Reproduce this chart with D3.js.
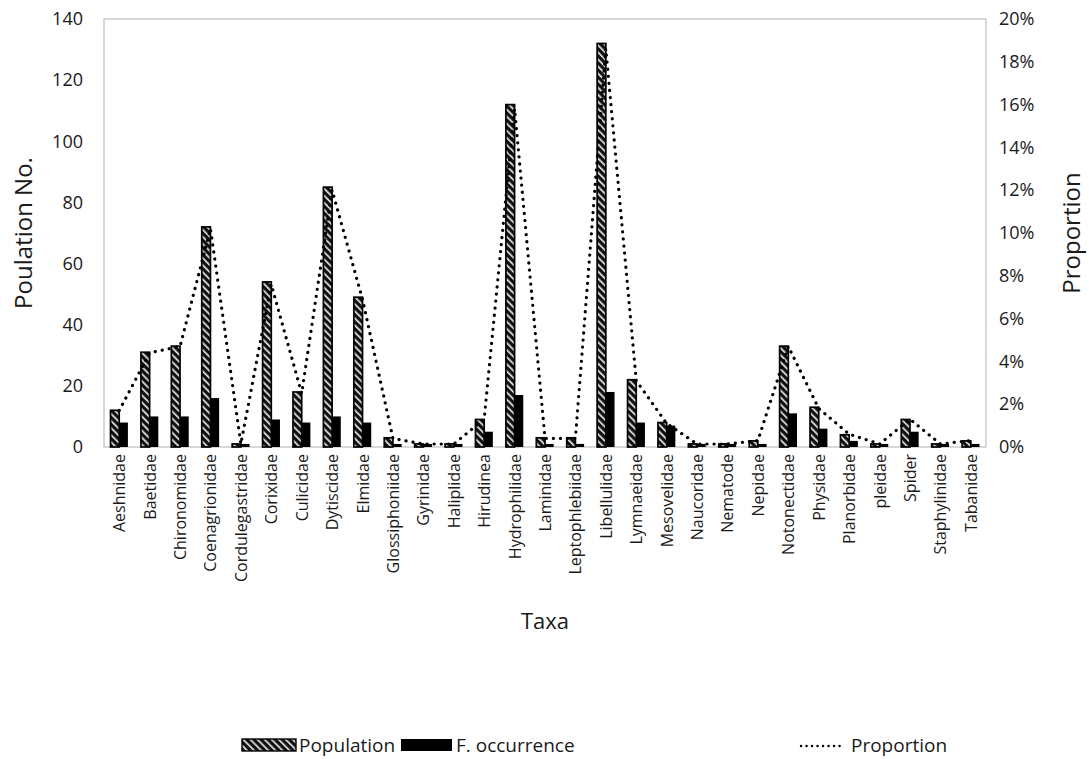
<!DOCTYPE html>
<html>
<head>
<meta charset="utf-8">
<script src="https://cdn.jsdelivr.net/npm/d3@7"></script>
<style>
  html, body { margin: 0; padding: 0; background: #fff; }
  svg { display: block; font-family: "Open Sans", Lato, sans-serif; }
</style>
</head>
<body>
<svg id="chart" width="1089" height="759"></svg>
<script>
// Taxa sampled
const taxa = ["Aeshnidae", "Baetidae", "Chironomidae", "Coenagrionidae", "Cordulegastridae",
  "Corixidae", "Culicidae", "Dytiscidae", "Elmidae", "Glossiphoniidae", "Gyrinidae",
  "Haliplidae", "Hirudinea", "Hydrophilidae", "Laminidae", "Leptophlebiidae", "Libellulidae",
  "Lymnaeidae", "Mesovelidae", "Naucoridae", "Nematode", "Nepidae", "Notonectidae",
  "Physidae", "Planorbidae", "pleidae", "Spider", "Staphylinidae", "Tabanidae"];

// Individuals counted per taxon
const population = [12, 31, 33, 72, 1, 54, 18, 85, 49, 3, 1, 1, 9, 112, 3, 3, 132, 22, 8,
  1, 1, 2, 33, 13, 4, 1, 9, 1, 2];

// Frequency of occurrence per taxon
const occurrence = [8, 10, 10, 16, 1, 9, 8, 10, 8, 1, 1, 1, 5, 17, 1, 1, 18, 8, 7,
  1, 1, 1, 11, 6, 2, 1, 5, 1, 1];

// Share of the total catch (fraction)
const proportion = [0.017, 0.044, 0.047, 0.102, 0.0014, 0.076, 0.025, 0.120, 0.069, 0.004,
  0.0014, 0.0014, 0.013, 0.158, 0.004, 0.004, 0.186, 0.031, 0.011, 0.0014, 0.0014, 0.003,
  0.047, 0.018, 0.006, 0.0014, 0.013, 0.0014, 0.003];

const leftTicks = [0, 20, 40, 60, 80, 100, 120, 140];
const rightTicks = [0, 0.02, 0.04, 0.06, 0.08, 0.10, 0.12, 0.14, 0.16, 0.18, 0.20];
const legendLabels = ["Population", "F. occurrence", "Proportion"];

const svg = d3.select("#chart");
const plot = { left: 104, right: 986, top: 19, bottom: 447 };
const ink = "#1a1a1a";

const x = d3.scaleBand().domain(taxa).range([plot.left, plot.right]);
const yL = d3.scaleLinear().domain([0, 140]).range([plot.bottom, plot.top]);
const yR = d3.scaleLinear().domain([0, 0.20]).range([plot.bottom, plot.top]);
const barW = x.bandwidth() / 3.5;

// Diagonal hatch used for the population bars
const defs = svg.append("defs");
const pat = defs.append("pattern")
  .attr("id", "hatch").attr("patternUnits", "userSpaceOnUse")
  .attr("width", 5).attr("height", 5)
  .attr("patternTransform", "rotate(-45)");
pat.append("rect").attr("width", 5).attr("height", 5).attr("fill", "#111");
pat.append("rect").attr("x", 0).attr("y", 0).attr("width", 1.7).attr("height", 5).attr("fill", "#e6e6e6");

// Plot area frame
svg.append("rect")
  .attr("x", plot.left).attr("y", plot.top)
  .attr("width", plot.right - plot.left).attr("height", plot.bottom - plot.top)
  .attr("fill", "none").attr("stroke", "#c4c4c4").attr("stroke-width", 1.3);

// Left axis
const axL = svg.append("g").attr("transform", `translate(${plot.left},0)`)
  .call(d3.axisLeft(yL).tickValues(leftTicks).tickSize(0).tickPadding(21));
axL.select(".domain").remove();
axL.selectAll("text").attr("font-size", 18).attr("fill", ink).style("font-family", "'Open Sans', sans-serif");

// Right axis
const axR = svg.append("g").attr("transform", `translate(${plot.right},0)`)
  .call(d3.axisRight(yR).tickValues(rightTicks).tickSize(0).tickPadding(13).tickFormat(d3.format(".0%")));
axR.select(".domain").remove();
axR.selectAll("text").attr("font-size", 18).attr("fill", ink).style("font-family", "'Open Sans', sans-serif");

// Category axis with rotated labels
const axX = svg.append("g").attr("transform", `translate(0,${plot.bottom})`)
  .call(d3.axisBottom(x).tickSize(0).tickPadding(0));
axX.select(".domain").remove();
axX.selectAll("text")
  .attr("font-size", 16).attr("fill", ink).style("font-family", "'Open Sans', sans-serif")
  .attr("text-anchor", "end")
  .attr("dy", null)
  .attr("transform", "translate(0,7) rotate(-90)")
  .attr("dominant-baseline", "central");

// Population bars
svg.append("g").selectAll("rect")
  .data(taxa.map((t, i) => ({ t, v: population[i] })))
  .join("rect")
  .attr("x", d => x(d.t) + x.bandwidth() / 2 - barW)
  .attr("y", d => yL(d.v))
  .attr("width", barW)
  .attr("height", d => yL(0) - yL(d.v))
  .attr("fill", "url(#hatch)")
  .attr("stroke", "#000").attr("stroke-width", 1.7);

// Occurrence bars
svg.append("g").selectAll("rect")
  .data(taxa.map((t, i) => ({ t, v: occurrence[i] })))
  .join("rect")
  .attr("x", d => x(d.t) + x.bandwidth() / 2)
  .attr("y", d => yL(d.v))
  .attr("width", barW)
  .attr("height", d => yL(0) - yL(d.v))
  .attr("fill", "#000");

// Proportion line (dotted)
const line = d3.line()
  .x((d, i) => x(taxa[i]) + x.bandwidth() / 2)
  .y(d => yR(d));
svg.append("path")
  .datum(proportion)
  .attr("d", line)
  .attr("fill", "none").attr("stroke", "#000")
  .attr("stroke-width", 3.2).attr("stroke-linecap", "round")
  .attr("stroke-dasharray", "0.1 7");

// Axis titles
svg.append("text")
  .attr("transform", `translate(22,${(plot.top + plot.bottom) / 2}) rotate(-90)`)
  .attr("text-anchor", "middle").attr("dominant-baseline", "central")
  .attr("font-size", 24).attr("fill", ink)
  .text("Poulation No.");
svg.append("text")
  .attr("transform", `translate(1070,${(plot.top + plot.bottom) / 2}) rotate(-90)`)
  .attr("text-anchor", "middle").attr("dominant-baseline", "central")
  .attr("font-size", 24).attr("fill", ink)
  .text("Proportion");
svg.append("text")
  .attr("x", (plot.left + plot.right) / 2).attr("y", 620)
  .attr("text-anchor", "middle").attr("dominant-baseline", "central")
  .attr("font-size", 22).attr("fill", ink)
  .text("Taxa");

// Legend
const lg = svg.append("g").attr("transform", "translate(0,745)");
lg.append("rect").attr("x", 242).attr("y", -6).attr("width", 54).attr("height", 12)
  .attr("fill", "url(#hatch)").attr("stroke", "#000").attr("stroke-width", 1.4);
lg.append("text").attr("x", 299).attr("y", 0).attr("dominant-baseline", "central")
  .attr("font-size", 19).attr("fill", ink).text(legendLabels[0]);
lg.append("rect").attr("x", 401).attr("y", -6).attr("width", 51).attr("height", 12)
  .attr("fill", "#000");
lg.append("text").attr("x", 456).attr("y", 0).attr("dominant-baseline", "central")
  .attr("font-size", 19).attr("fill", ink).text(legendLabels[1]);
lg.append("line").attr("x1", 801).attr("x2", 845).attr("y1", 1).attr("y2", 1)
  .attr("stroke", "#000").attr("stroke-width", 2.4).attr("stroke-linecap", "round")
  .attr("stroke-dasharray", "0.1 5.4");
lg.append("text").attr("x", 851).attr("y", 0).attr("dominant-baseline", "central")
  .attr("font-size", 19).attr("fill", ink).text(legendLabels[2]);
</script>
</body>
</html>
